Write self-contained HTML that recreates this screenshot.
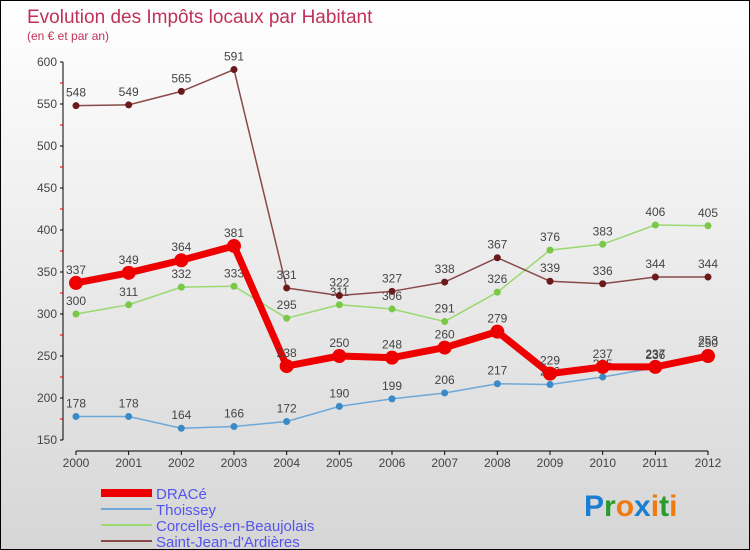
<!DOCTYPE html>
<html><head><meta charset="utf-8"><style>
body{margin:0}
#c{width:750px;height:550px;position:relative;box-sizing:border-box;border:1px solid #000;background:linear-gradient(#fff,#d6d6d6);font-family:"Liberation Sans",sans-serif;overflow:hidden}
</style></head><body>
<div id="c">
<svg id="s" width="750" height="550" style="position:absolute;left:0;top:0">
<text x="26" y="22" font-size="19" fill="#c0305a">Evolution des Impôts locaux par Habitant</text>
<text x="26" y="39" font-size="12" fill="#c0305a">(en € et par an)</text>
<g id="axes"></g><g id="series"></g><g id="legend"></g>
<text x="583" y="515" font-size="30" font-weight="bold"><tspan fill="#1a7fd0">P</tspan><tspan fill="#2a9a2a">r</tspan><tspan fill="#f07a10">o</tspan><tspan fill="#1a7fd0">x</tspan><tspan fill="#f07a10">i</tspan><tspan fill="#2a9a2a">t</tspan><tspan fill="#f07a10">i</tspan></text>
</svg>
</div>
<script>
const years=[2000,2001,2002,2003,2004,2005,2006,2007,2008,2009,2010,2011,2012];
const yTicks=[150,200,250,300,350,400,450,500,550,600];
const drace=[337,349,364,381,238,250,248,260,279,229,237,237,250];
const thoissey=[178,178,164,166,172,190,199,206,217,216,225,236,253];
const corcelles=[300,311,332,333,295,311,306,291,326,376,383,406,405];
const stjean=[548,549,565,591,331,322,327,338,367,339,336,344,344];
const NS="http://www.w3.org/2000/svg";
function X(i){return 75+i*(707-75)/(years.length-1);}
function Y(v){return 439-(v-150)*(439-61)/450;}
function mk(t,a,p){const e=document.createElementNS(NS,t);for(const k in a)e.setAttribute(k,a[k]);p.appendChild(e);return e;}
const ax=document.getElementById('axes');
let l=mk('line',{x1:62,y1:61,x2:62,y2:439,stroke:'#000'},ax);


yTicks.forEach(v=>{
 mk('line',{x1:59,y1:Y(v),x2:62,y2:Y(v),stroke:'#000'},ax);
 if(v<600)mk('line',{x1:59,y1:Y(v+25),x2:62,y2:Y(v+25),stroke:'#d00'},ax);
 const t=mk('text',{x:56,y:Y(v)+4,'font-size':12,fill:'#444','text-anchor':'end'},ax);t.textContent=v;
 
 
});
l=mk('line',{x1:75,y1:450,x2:707,y2:450,stroke:'#000'},ax);


years.forEach((y,i)=>{
 mk('line',{x1:X(i),y1:450,x2:X(i),y2:454,stroke:'#000'},ax);
 const t=mk('text',{x:X(i),y:466,'font-size':12,fill:'#444','text-anchor':'middle'},ax);t.textContent=y;
 
 
});
const sg=document.getElementById('series');
function draw(data,color,w,r,dot,name){
 const g=mk('g',{},sg);
 
 
 mk('polyline',{points:data.map((v,i)=>X(i)+','+Y(v)).join(' '),fill:'none',stroke:color,'stroke-width':w,'stroke-linejoin':'round'},g);
 data.forEach((v,i)=>{
  const c=mk('circle',{cx:X(i),cy:Y(v),r:r,fill:dot},g);
  
  
  const t=mk('text',{x:X(i),y:Y(v)-9,'font-size':12,fill:'#444','text-anchor':'middle'},g);t.textContent=v;
  
  
 });
}
draw(thoissey,'#6fa8d8',1.5,3.5,'#3a8ac8','thoissey');
draw(corcelles,'#9ad870',1.5,3.5,'#7ac848','corcelles');
draw(stjean,'#8a4a4a',1.5,3.5,'#6a1a1a','saint-jean');
draw(drace,'#ee0000',7,7,'#ee0000','drace');
const lg=document.getElementById('legend');
[['DRACé','#ee0000',8],['Thoissey','#6fa8d8',2],['Corcelles-en-Beaujolais','#9ad870',2],['Saint-Jean-d\'Ardières','#8a4a4a',2]].forEach((e,i)=>{
 const y=492+i*16;
 const g=mk('g',{},lg);
 
 
 mk('line',{x1:100,y1:y,x2:151,y2:y,stroke:e[1],'stroke-width':e[2]},g);
 const t=mk('text',{x:155,y:y+6,'font-size':15,fill:'#5555ee'},g);t.textContent=e[0];
});
</script>
</body></html>
